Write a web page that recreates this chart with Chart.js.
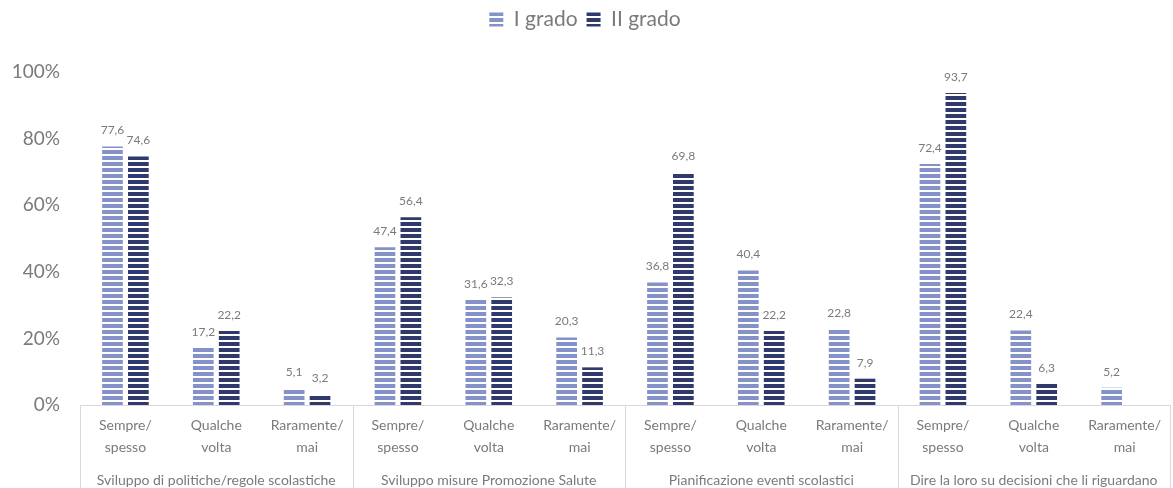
<!DOCTYPE html>
<html>
<head>
<meta charset="utf-8">
<script src="https://cdn.jsdelivr.net/npm/chart.js@4"></script>
<style>
  html, body { margin: 0; padding: 0; background: #fff; }
  #wrap { width: 1173px; height: 488px; }
</style>
</head>
<body>
<div id="wrap"><canvas id="chart" width="1173" height="488"></canvas></div>
<script>
// Data
const categories = [
  ['Sempre/', 'spesso'], ['Qualche', 'volta'], ['Raramente/', 'mai'],
  ['Sempre/', 'spesso'], ['Qualche', 'volta'], ['Raramente/', 'mai'],
  ['Sempre/', 'spesso'], ['Qualche', 'volta'], ['Raramente/', 'mai'],
  ['Sempre/', 'spesso'], ['Qualche', 'volta'], ['Raramente/', 'mai']
];
const groups = [
  'Sviluppo di politiche/regole scolastiche',
  'Sviluppo misure Promozione Salute',
  'Pianificazione eventi scolastici',
  'Dire la loro su decisioni che li riguardano'
];
const primoGrado = [77.6, 17.2, 5.1, 47.4, 31.6, 20.3, 36.8, 40.4, 22.8, 72.4, 22.4, 5.2];
const secondoGrado = [74.6, 22.2, 3.2, 56.4, 32.3, 11.3, 69.8, 22.2, 7.9, 93.7, 6.3, null];
const yTicks = [0, 20, 40, 60, 80, 100];

const colors = {
  light: '#8592ca',
  dark: '#2f396b',
  text: '#7a7a7a',
  axis: '#d9d9d9'
};
const FONT = "Lato, 'Open Sans', sans-serif";

// horizontal striped fill like the original
function stripes(color) {
  const c = document.createElement('canvas');
  c.width = 6; c.height = 6;
  const g = c.getContext('2d');
  g.fillStyle = '#ffffff';
  g.fillRect(0, 0, 6, 6);
  g.fillStyle = color;
  g.fillRect(0, 0, 6, 4);
  return document.getElementById('chart').getContext('2d').createPattern(c, 'repeat');
}

// value labels above the bars, italian decimal comma
const valueLabels = {
  id: 'valueLabels',
  afterDatasetsDraw(chart) {
    const ctx = chart.ctx;
    ctx.save();
    ctx.font = '12px ' + FONT;
    ctx.fillStyle = colors.text;
    ctx.textAlign = 'center';
    ctx.textBaseline = 'bottom';
    chart.data.datasets.forEach((ds, di) => {
      chart.getDatasetMeta(di).data.forEach((bar, i) => {
        const v = ds.data[i];
        if (v == null) return;
        ctx.fillText(v.toFixed(1).replace('.', ','), bar.x, bar.y - 10);
      });
    });
    ctx.restore();
  }
};

// vertical separators between the groups, running through the label rows
const groupLines = {
  id: 'groupLines',
  afterDraw(chart) {
    const x = chart.scales.x;
    const ctx = chart.ctx;
    const step = x.getPixelForValue(1) - x.getPixelForValue(0);
    ctx.save();
    ctx.strokeStyle = colors.axis;
    ctx.lineWidth = 1;
    for (let g = 0; g <= groups.length; g++) {
      const px = Math.round(x.getPixelForValue(g * 3) - step / 2) + 0.5;
      ctx.beginPath();
      ctx.moveTo(px, chart.chartArea.bottom);
      ctx.lineTo(px, chart.height);
      ctx.stroke();
    }
    ctx.restore();
  }
};

new Chart(document.getElementById('chart'), {
  type: 'bar',
  data: {
    labels: categories,
    datasets: [
      {
        label: 'I grado',
        data: primoGrado,
        backgroundColor: stripes(colors.light),
        categoryPercentage: 0.57,
        barPercentage: 0.8
      },
      {
        label: 'II grado',
        data: secondoGrado,
        backgroundColor: stripes(colors.dark),
        categoryPercentage: 0.57,
        barPercentage: 0.8
      }
    ]
  },
  options: {
    responsive: false,
    animation: false,
    layout: { padding: { left: 0, right: 3, top: 0, bottom: 0 } },
    plugins: {
      legend: {
        position: 'top',
        labels: {
          font: { family: FONT, size: 21 },
          color: colors.text,
          boxWidth: 14,
          boxHeight: 14,
          padding: 9
        }
      },
      // empty spacer between legend and plot
      title: {
        display: true,
        text: ' ',
        weight: 500,
        font: { size: 10, lineHeight: 1 },
        padding: { top: 0, bottom: 22 }
      },
      tooltip: { enabled: false }
    },
    scales: {
      y: {
        min: 0,
        max: 100,
        afterBuildTicks: s => { s.ticks = yTicks.map(v => ({ value: v })); },
        afterFit: s => { s.width = 80; },
        grid: { display: false, drawTicks: false },
        border: { display: false },
        ticks: {
          padding: 20,
          color: colors.text,
          font: { family: FONT, size: 19 },
          callback: v => v + '%'
        }
      },
      x: {
        afterFit: s => { s.height = 55; },
        grid: { display: false, drawTicks: false },
        border: { display: true, color: colors.axis, width: 1 },
        ticks: {
          padding: 10,
          color: colors.text,
          autoSkip: false,
          maxRotation: 0,
          font: { family: FONT, size: 14, lineHeight: 1.55 }
        }
      },
      x2: {
        type: 'category',
        position: 'bottom',
        labels: groups,
        afterFit: s => { s.height = 28; },
        grid: { display: false, drawTicks: false },
        border: { display: false },
        ticks: {
          padding: 12,
          color: colors.text,
          autoSkip: false,
          maxRotation: 0,
          font: { family: FONT, size: 14 }
        }
      }
    }
  },
  plugins: [valueLabels, groupLines]
});
</script>
</body>
</html>
